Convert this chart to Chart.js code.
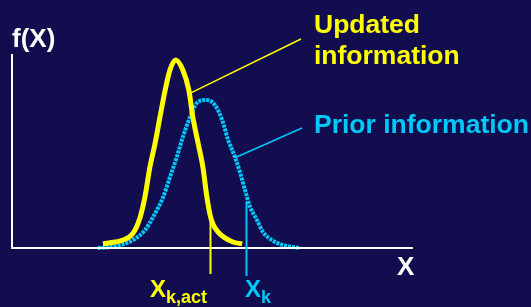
<!DOCTYPE html>
<html>
<head>
<meta charset="utf-8">
<title>Updated vs prior information</title>
<script src="https://cdn.jsdelivr.net/npm/chart.js@4/dist/chart.umd.min.js"></script>
<style>
  html, body { margin: 0; padding: 0; background: #110D4F; }
  #wrap { position: relative; width: 531px; height: 307px; }
</style>
</head>
<body>
<div id="wrap"><canvas id="pdfChart" width="531" height="307"></canvas></div>
<script>
// ==========================================
//  UPDATED vs PRIOR INFORMATION – f(X)
// ==========================================

// === DATA ===
var UPDATED_X = [22.7, 25.7, 27.7, 30.2, 31.9, 33.2, 34.4, 35.7, 36.9, 38.2, 39.4, 40.8,
                 42.6, 44.1, 45.1, 46.4, 47.6, 48.6, 49.4, 50.1, 51.4, 53.1, 55.1, 57.4];
var UPDATED_Y = [2.1, 3.1, 4.1, 7.7, 15.5, 26.8, 41.8, 54.1, 67.5, 81.4, 91.8, 96.9,
                 91.8, 81.4, 67.5, 54.1, 41.8, 26.3, 17.0, 12.4, 8.2, 5.2, 3.1, 2.1];

var PRIOR_X = [21.4, 24.4, 26.9, 30.2, 33.2, 35.2, 37.7, 39.4, 41.1, 42.6, 44.4, 46.1, 48.4,
               50.6, 52.4, 53.9, 55.6, 56.9, 58.1, 59.4, 61.1, 62.6, 64.8, 67.6, 71.8];
var PRIOR_Y = [0, 0.5, 1.5, 4.1, 9.3, 16.0, 26.3, 36.6, 46.9, 57.2, 67.5, 74.7, 76.3,
               73.7, 66.0, 55.7, 46.9, 38.7, 29.9, 21.1, 14.4, 8.2, 4.1, 1.5, 0];

var MARKER_X     = [49.5, 58.3];
var MARKER_TOP   = [14.0, 24.0];
var MARKER_NAMES = ['X', 'X'];
var MARKER_SUBS  = ['k,act', 'k'];

var SERIES_NAMES = ['Updated information', 'Prior information'];

// === STYLE ===
var YELLOW = '#FFFF00';
var CYAN   = '#00C8F8';
var WHITE  = '#FFFFFF';
var FONT   = '"Liberation Sans", Arial, sans-serif';

function toPoints(xs, ys) {
  return xs.map(function (x, i) { return { x: x, y: ys[i] }; });
}

// === OVERLAY: axes, markers, labels ===
var overlay = {
  id: 'overlay',
  afterDatasetsDraw: function (chart) {
    var ctx = chart.ctx;
    var a   = chart.chartArea;
    var xs  = chart.scales.x;
    var ys  = chart.scales.y;

    ctx.save();

    // axes
    ctx.strokeStyle = WHITE;
    ctx.lineWidth   = 2;
    ctx.beginPath();
    ctx.moveTo(a.left, a.top);
    ctx.lineTo(a.left, a.bottom);
    ctx.lineTo(a.right, a.bottom);
    ctx.stroke();

    // marker lines
    var colors = [YELLOW, CYAN];
    ctx.lineWidth = 2;
    MARKER_X.forEach(function (mx, i) {
      var px = Math.round(xs.getPixelForValue(mx)) + 0.5;
      ctx.strokeStyle = colors[i];
      ctx.beginPath();
      ctx.moveTo(px, ys.getPixelForValue(MARKER_TOP[i]));
      ctx.lineTo(px, a.bottom + 26 + i * 2);
      ctx.stroke();
    });

    // marker labels  X with subscript
    ctx.textBaseline = 'alphabetic';
    ctx.textAlign    = 'left';
    var labelLeft = [150, 245];
    MARKER_X.forEach(function (mx, i) {
      ctx.fillStyle = colors[i];
      ctx.font = 'bold 24px ' + FONT;
      ctx.fillText(MARKER_NAMES[i], labelLeft[i], 297);
      var w = ctx.measureText(MARKER_NAMES[i]).width;
      ctx.font = 'bold 18px ' + FONT;
      ctx.fillText(MARKER_SUBS[i], labelLeft[i] + w, 303);
    });

    // axis titles
    ctx.fillStyle = WHITE;
    ctx.font = 'bold 26px ' + FONT;
    ctx.fillText('f(X)', 12, 47);
    ctx.fillText('X', 397, 275);

    // leader lines
    ctx.lineWidth = 1.5;
    ctx.strokeStyle = YELLOW;
    ctx.beginPath();
    ctx.moveTo(xs.getPixelForValue(44.6), ys.getPixelForValue(80));
    ctx.lineTo(301, 39);
    ctx.stroke();
    ctx.strokeStyle = CYAN;
    ctx.beginPath();
    ctx.moveTo(xs.getPixelForValue(55.6), ys.getPixelForValue(46.5));
    ctx.lineTo(302, 128);
    ctx.stroke();

    // series captions
    ctx.font = 'bold 26.5px ' + FONT;
    ctx.fillStyle = YELLOW;
    ctx.fillText('Updated', 314, 33);
    ctx.fillText('information', 314, 64);
    ctx.fillStyle = CYAN;
    ctx.fillText(SERIES_NAMES[1], 314, 133);

    ctx.restore();
  }
};

// === CHART ===
(function () {
  'use strict';

  var ctx = document.getElementById('pdfChart').getContext('2d');

  new Chart(ctx, {
    type: 'line',
    data: {
      datasets: [
        {
          label:           SERIES_NAMES[0],
          data:            toPoints(UPDATED_X, UPDATED_Y),
          borderColor:     YELLOW,
          borderWidth:     5,
          borderCapStyle:  'butt',
          pointRadius:     0,
          tension:         0.4,
          cubicInterpolationMode: 'monotone',
          clip:            false,
          order:           0,
        },
        {
          label:           SERIES_NAMES[1],
          data:            toPoints(PRIOR_X, PRIOR_Y),
          borderColor:     CYAN,
          borderWidth:     4,
          borderDash:      [3, 1],
          pointRadius:     0,
          tension:         0.4,
          cubicInterpolationMode: 'monotone',
          clip:            false,
          order:           1,
        },
      ],
    },
    options: {
      responsive: false,
      animation:  false,
      layout: { padding: { left: 12, top: 54, right: 118, bottom: 59 } },
      plugins: {
        legend:  { display: false },
        tooltip: { enabled: false },
      },
      scales: {
        x: { type: 'linear', min: 0, max: 100, display: false },
        y: { type: 'linear', min: 0, max: 100, display: false },
      },
    },
    plugins: [overlay],
  });
}());
</script>
</body>
</html>
